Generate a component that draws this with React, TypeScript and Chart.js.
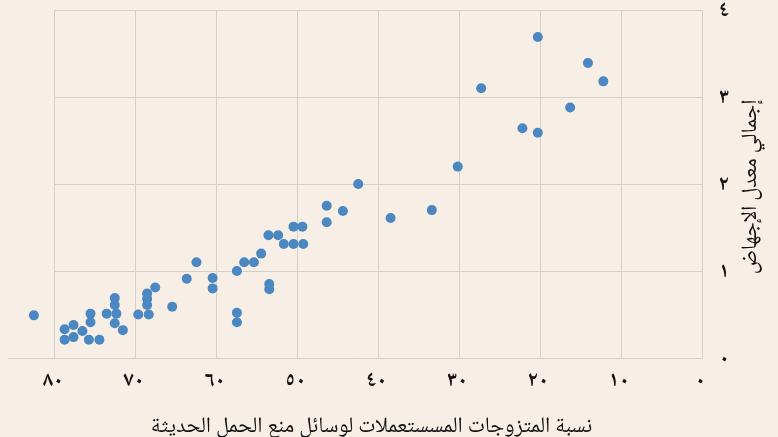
import React, { useEffect, useRef } from "react";
import { Chart, registerables } from "chart.js";

Chart.register(...registerables);

// Percentage of married women using modern contraception (x)
const contraceptionPct = [
  20.3, 14.1, 12.2, 27.3, 16.3, 22.2, 20.3, 30.2, 33.4, 38.5,
  42.5, 46.4, 44.4, 46.4, 50.5, 49.4, 53.6, 52.4, 51.7, 50.5,
  49.3, 54.5, 55.4, 56.6, 57.5, 53.5, 53.5, 57.5, 57.5, 62.5,
  63.7, 60.5, 60.5, 65.5, 67.6, 68.6, 68.6, 68.6, 68.4, 69.7,
  71.6, 72.6, 72.4, 72.6, 72.6, 73.6, 74.5, 75.8, 75.6, 75.6,
  76.6, 77.7, 77.7, 78.8, 78.8, 82.6,
];
// Total abortion rate (y)
const abortionRate = [
  3.69, 3.39, 3.18, 3.10, 2.88, 2.64, 2.59, 2.20, 1.70, 1.61,
  2.00, 1.75, 1.69, 1.56, 1.51, 1.51, 1.41, 1.41, 1.31, 1.31,
  1.31, 1.20, 1.10, 1.10, 1.00, 0.85, 0.79, 0.52, 0.41, 1.10,
  0.91, 0.92, 0.80, 0.59, 0.81, 0.74, 0.68, 0.61, 0.50, 0.50,
  0.32, 0.40, 0.51, 0.61, 0.69, 0.51, 0.21, 0.21, 0.41, 0.51,
  0.31, 0.24, 0.38, 0.21, 0.33, 0.49,
];

const xRange = [0, 85.8]; // axis extends past the last gridline (80)
const xGridMax = 80;
const yRange = [0, 4];
const xStep = 10;
const yStep = 1;

const xTitle = "نسبة المتزوجات المسستعملات لوسائل منع الحمل الحديثة";
const yTitle = "إجمالي معدل الإجهاض";

const arabicDigits = ["٠", "١", "٢", "٣", "٤", "٥", "٦", "٧", "٨", "٩"];
const toArabic = (v: number | string) =>
  String(v).replace(/[0-9]/g, (d) => arabicDigits[Number(d)]);

const BG = "#f7efe6";
const GRID = "#d2d0cd";
const POINT = "#4b87c1";
const TEXT = "#111111";
const FONT = "'Noto Naskh Arabic', 'Amiri', 'DejaVu Sans', serif";
const TITLE_SIZE = 22;

const align = (p: number) => Math.round(p - 0.5) + 0.5;

const decorPlugin = {
  id: "decor",
  beforeDatasetsDraw(chart: any) {
    const { ctx, chartArea, scales } = chart;
    const left = align(scales.x.getPixelForValue(xGridMax));
    ctx.save();
    ctx.strokeStyle = GRID;
    ctx.lineWidth = 1;
    ctx.beginPath();
    scales.y.ticks.forEach((t: any) => {
      if (t.value === yRange[0]) return;
      const y = align(scales.y.getPixelForValue(t.value));
      ctx.moveTo(left, y);
      ctx.lineTo(chartArea.right, y);
    });
    ctx.stroke();
    ctx.restore();
  },
  afterDraw(chart: any) {
    const { ctx, chartArea } = chart;
    const left = chart.scales.x.getPixelForValue(xGridMax);
    ctx.save();
    ctx.fillStyle = TEXT;
    ctx.font = `${TITLE_SIZE}px ${FONT}`;
    ctx.textAlign = "center";
    ctx.textBaseline = "middle";
    // x-axis title
    ctx.fillText(xTitle, (left + chartArea.right) / 2 - 7, chartArea.bottom + 71);
    // y-axis title, rotated counter-clockwise
    ctx.translate(chartArea.right + 51, (chartArea.top + chartArea.bottom) / 2 + 3);
    ctx.rotate(-Math.PI / 2);
    ctx.fillText(yTitle, 0, 0);
    ctx.restore();
  },
};

export default function App() {
  const ref = useRef<HTMLCanvasElement | null>(null);

  useEffect(() => {
    if (!ref.current) return;
    const points = contraceptionPct.map((x, i) => ({ x, y: abortionRate[i] }));
    const chart = new Chart(ref.current, {
      type: "scatter",
      data: {
        datasets: [
          {
            data: points,
            backgroundColor: POINT,
            borderColor: POINT,
            borderWidth: 0,
            pointRadius: 5,
            pointHoverRadius: 5,
            clip: false as any,
          },
        ],
      },
      options: {
        animation: false,
        responsive: false,
        maintainAspectRatio: false,
        layout: { padding: { left: 8, top: 10, right: 0, bottom: 0 } },
        plugins: {
          legend: { display: false },
          tooltip: { enabled: false },
        },
        scales: {
          x: {
            type: "linear",
            reverse: true,
            min: xRange[0],
            max: xRange[1],
            afterFit: (s: any) => {
              s.height = 79;
              s.paddingLeft = 0;
              s.paddingRight = 0;
            },
            afterBuildTicks: (s: any) => {
              s.ticks = s.ticks.filter((t: any) => t.value <= xGridMax);
            },
            ticks: {
              stepSize: xStep,
              includeBounds: false,
              padding: 13,
              labelOffset: -2,
              color: TEXT,
              font: { family: FONT, size: 21, weight: "bold" },
              maxRotation: 0,
              callback: (v: any) => toArabic(v),
            },
            grid: { color: GRID, drawTicks: false, lineWidth: 1 },
            border: { display: true, color: GRID },
            title: { display: false },
          },
          y: {
            type: "linear",
            position: "right",
            min: yRange[0],
            max: yRange[1],
            afterFit: (s: any) => {
              s.width = 76;
              s.paddingTop = 0;
              s.paddingBottom = 0;
            },
            ticks: {
              stepSize: yStep,
              padding: 17,
              labelOffset: 3,
              color: TEXT,
              font: { family: FONT, size: 21, weight: "bold" },
              callback: (v: any) => toArabic(v),
            },
            grid: { display: false, drawTicks: false },
            border: { display: true, color: GRID },
            title: { display: false },
          },
        },
      },
      plugins: [decorPlugin],
    });
    return () => chart.destroy();
  }, []);

  return (
    <div
      style={{
        position: "absolute",
        left: 0,
        top: 0,
        width: 778,
        height: 437,
        background: BG,
      }}
    >
      <canvas ref={ref} width={778} height={437} style={{ display: "block" }} />
    </div>
  );
}
